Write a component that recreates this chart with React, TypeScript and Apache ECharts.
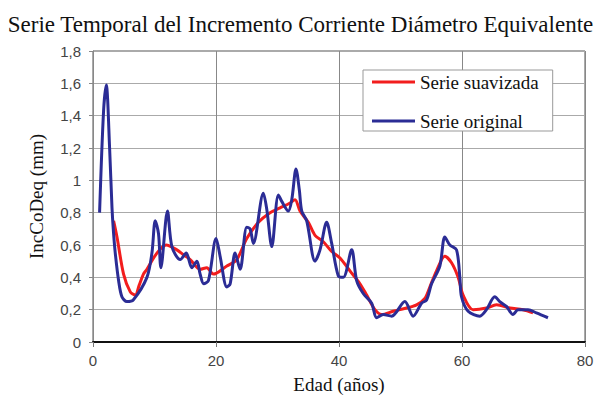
import React, { useEffect, useRef } from "react";
import * as echarts from "echarts";

const titleText = "Serie Temporal del Incremento Corriente Diámetro Equivalente";
const xName = "Edad (años)";
const yName = "IncCoDeq (mm)";
const legendSmooth = "Serie suavizada";
const legendOrig = "Serie original";

// Serie original (edad, incremento)
const origAge = [1.07, 1.72, 2.16, 2.7, 3.09, 3.35, 3.62, 4.16, 4.7, 5.52, 6.54, 8.77, 9.58, 10.12, 10.65, 11.04, 12.11, 12.83, 14.18, 15.15, 16.08, 16.89, 17.42, 18.0, 18.77, 20.02, 20.67, 21.76, 22.3, 23.11, 23.92, 25.0, 25.54, 26.08, 27.7, 28.26, 29.07, 30.14, 30.69, 31.76, 32.32, 33.01, 33.55, 33.94, 34.75, 36.1, 36.91, 38.0, 38.81, 39.88, 40.7, 42.06, 42.87, 43.94, 45.31, 46.12, 47.19, 48.56, 50.71, 52.06, 53.43, 54.24, 55.05, 56.4, 57.21, 58.02, 59.11, 59.65, 59.92, 61.0, 62.9, 63.98, 65.33, 66.14, 67.23, 68.3, 69.11, 70.74, 72.1, 73.98];
const origVal = [0.8, 1.43, 1.59, 1.2, 0.83, 0.67, 0.55, 0.38, 0.28, 0.25, 0.26, 0.4, 0.55, 0.75, 0.67, 0.46, 0.81, 0.59, 0.51, 0.55, 0.46, 0.5, 0.42, 0.36, 0.38, 0.64, 0.53, 0.34, 0.36, 0.55, 0.45, 0.71, 0.7, 0.61, 0.92, 0.82, 0.59, 0.91, 0.87, 0.81, 0.88, 1.07, 0.94, 0.81, 0.75, 0.5, 0.57, 0.74, 0.61, 0.41, 0.4, 0.57, 0.38, 0.3, 0.24, 0.15, 0.17, 0.16, 0.25, 0.16, 0.24, 0.26, 0.36, 0.47, 0.65, 0.6, 0.57, 0.4, 0.28, 0.19, 0.16, 0.2, 0.28, 0.25, 0.22, 0.17, 0.2, 0.2, 0.18, 0.15];

// Serie suavizada (edad, incremento)
const smoothAge = [3.35, 3.9, 4.97, 6.06, 6.87, 7.5, 8.2, 8.77, 10.39, 11.9, 13.64, 14.71, 15.8, 17.42, 18.5, 19.58, 21.76, 23.38, 25.0, 26.89, 28.79, 30.42, 32.04, 32.85, 33.66, 35.01, 36.1, 37.45, 38.81, 40.16, 41.78, 43.41, 44.5, 45.84, 46.93, 48.81, 50.99, 52.61, 53.96, 54.77, 55.86, 57.21, 58.3, 59.37, 60.18, 61.81, 63.98, 65.61, 67.77, 69.93, 71.55];
const smoothVal = [0.75, 0.65, 0.42, 0.31, 0.29, 0.35, 0.42, 0.45, 0.55, 0.6, 0.57, 0.54, 0.51, 0.45, 0.46, 0.42, 0.47, 0.51, 0.64, 0.74, 0.8, 0.83, 0.86, 0.88, 0.81, 0.74, 0.66, 0.62, 0.56, 0.52, 0.44, 0.36, 0.29, 0.2, 0.17, 0.19, 0.21, 0.23, 0.27, 0.34, 0.44, 0.53, 0.49, 0.4, 0.29, 0.2, 0.21, 0.23, 0.21, 0.2, 0.18];

const xMin = 0, xMax = 80, xStep = 20;
const yMin = 0, yMax = 1.8, yStep = 0.2;

export default function App() {
  const ref = useRef<HTMLDivElement>(null);
  useEffect(() => {
    if (!ref.current) return;
    const chart = echarts.init(ref.current, null, { renderer: "svg" });
    const serif = "Liberation Serif";
    const sans = "Liberation Sans";
    chart.setOption({
      animation: false,
      backgroundColor: "#ffffff",
      textStyle: { fontFamily: serif },
      title: {
        text: titleText,
        left: "center",
        top: 8,
        textStyle: { fontFamily: serif, fontSize: 23, fontWeight: "normal", color: "#111" },
      },
      grid: {
        left: 93,
        right: 16,
        top: 51,
        bottom: 59,
        show: true,
        borderColor: "#555",
        borderWidth: 1,
      },
      legend: {
        orient: "vertical",
        left: 363,
        top: 70,
        data: [legendSmooth, legendOrig],
        icon: "rect",
        backgroundColor: "#fff",
        borderColor: "#999",
        borderWidth: 1,
        padding: [2, 14, 0, 9],
        itemWidth: 43,
        itemHeight: 3,
        itemGap: 19,
        textStyle: { fontFamily: serif, fontSize: 19, fontWeight: "normal", color: "#111", lineHeight: 20 },
      },
      xAxis: {
        type: "value",
        min: xMin,
        max: xMax,
        interval: xStep,
        name: xName,
        nameLocation: "middle",
        nameGap: 33,
        nameTextStyle: { fontFamily: serif, fontSize: 19, fontWeight: "normal", color: "#111" },
        axisLine: { show: true, lineStyle: { color: "#111", width: 2 } },
        axisTick: { show: true, length: 5, lineStyle: { color: "#777" } },
        axisLabel: { fontFamily: sans, fontSize: 15, color: "#444", margin: 11 },
        splitLine: { show: true, lineStyle: { color: "#888", width: 1 } },
      },
      yAxis: {
        type: "value",
        min: yMin,
        max: yMax,
        interval: yStep,
        name: yName,
        nameLocation: "middle",
        nameGap: 47,
        nameTextStyle: { fontFamily: serif, fontSize: 19, fontWeight: "normal", color: "#111" },
        axisLine: { show: true, lineStyle: { color: "#888", width: 1 } },
        axisTick: { show: true, length: 4, lineStyle: { color: "#888" } },
        axisLabel: {
          fontFamily: sans,
          fontSize: 15,
          color: "#444",
          margin: 12,
          formatter: (v: number) => String(Math.round(v * 10) / 10).replace(".", ","),
        },
        splitLine: { show: true, lineStyle: { color: "#aaa", width: 1 } },
      },
      series: [
        {
          name: legendSmooth,
          type: "line",
          data: smoothAge.map((a, i) => [a, smoothVal[i]]),
          symbol: "none",
          smooth: 0.3,
          lineStyle: { color: "#f21d1d", width: 3 },
          itemStyle: { color: "#f21d1d" },
          z: 2,
        },
        {
          name: legendOrig,
          type: "line",
          data: origAge.map((a, i) => [a, origVal[i]]),
          symbol: "none",
          smooth: 0.3,
          lineStyle: { color: "#2b2c95", width: 3 },
          itemStyle: { color: "#2b2c95" },
          z: 3,
        },
      ],
    });
    return () => chart.dispose();
  }, []);
  return (
    <div
      ref={ref}
      style={{ position: "fixed", left: 0, top: 0, width: 601, height: 401, background: "#fff" }}
    />
  );
}
